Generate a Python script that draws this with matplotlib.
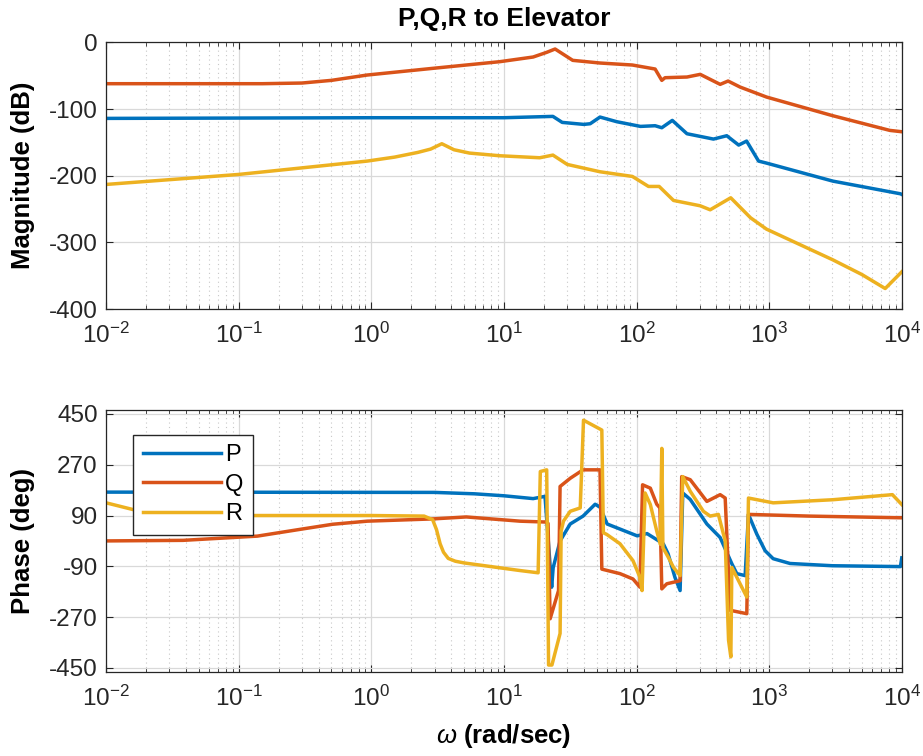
import numpy as np
import matplotlib
matplotlib.use("Agg")
import matplotlib.pyplot as plt
from matplotlib.ticker import FixedLocator, NullFormatter

plt.rcParams['font.family'] = ['Liberation Sans', 'DejaVu Sans']
plt.rcParams['mathtext.fontset'] = 'custom'
plt.rcParams['mathtext.rm'] = 'Liberation Sans'
plt.rcParams['mathtext.it'] = 'Liberation Sans:italic'
plt.rcParams['mathtext.bf'] = 'Liberation Sans:bold'
plt.rcParams['axes.unicode_minus'] = False

# magnitude (dB)
P_mag_w = [0.01, 1, 10, 23.4, 27.5, 40, 44.7, 53, 71, 107, 138, 155, 186, 240, 302, 380, 479, 589, 676, 832, 955, 3020, 9770, 10000]
P_mag = [-114, -113, -113, -111, -120, -123, -122, -112, -119, -126, -125, -128, -117, -137, -141, -145, -140, -154, -148, -178, -181, -208, -227, -228]

Q_mag_w = [0.01, 0.1, 0.15, 0.3, 0.5, 0.93, 2.9, 9.3, 16.6, 21, 24.3, 33, 53, 93, 138, 155, 164, 240, 302, 427, 490, 603, 955, 3020, 8130, 10000]
Q_mag = [-62, -62, -62, -61, -57, -49, -39, -29, -22, -15, -10, -27, -31, -34, -40, -57, -53, -52, -48, -63, -58, -67, -82, -110, -132, -134]

R_mag_w = [0.01, 0.1, 0.93, 1.5, 2.24, 2.8, 3.4, 4.2, 5.5, 9.3, 18.6, 23.4, 30, 53, 93, 123, 148, 190, 302, 359, 513, 724, 955, 3020, 5000, 7500, 10000]
R_mag = [-213, -198, -178, -172, -165, -160, -152, -161, -166, -170, -173, -169, -183, -194, -201, -216, -216, -237, -245, -251, -233, -263, -280, -326, -348, -369, -344]

# phase (deg)
P_ph_w = [0.01, 3, 6, 10, 16.6, 20.4, 22.9, 23.5, 26.5, 31.6, 39.5, 48.7, 53, 60, 75, 101, 120, 159, 173, 195, 213, 223, 254, 339, 427, 523, 570, 659, 698, 807, 933, 1072, 1437, 3000, 9770, 10000]
P_ph = [173, 172, 167, 160, 150, 158, -164, -95, 0, 60, 88, 130, 120, 60, 42, 18, 26, -10, -46, -130, -176, 170, 147, 60, 12, -81, -116, -123, 94, 24, -35, -63, -80, -88, -91, -60]

Q_ph_w = [0.01, 0.038, 0.138, 0.29, 0.51, 0.93, 2.9, 5.2, 13.2, 20.5, 21.5, 22.3, 25.8, 26.5, 31.6, 39.5, 53, 54.7, 75, 94, 106, 111, 127, 142, 150, 155, 169, 213, 219, 254, 339, 427, 466, 508, 678, 698, 2000, 10000]
Q_ph = [0, 2, 17, 41, 59, 70, 78, 85, 70, 67, 62, -276, -176, 193, 222, 252, 252, -100, -116, -135, -164, 199, 187, 130, 117, -170, -152, -141, 228, 217, 140, 164, 152, -246, -258, 94, 88, 82]

R_ph_w = [0.01, 0.016, 0.03, 0.13, 1.0, 2.5, 2.9, 3.1, 3.3, 3.5, 3.8, 4.3, 5.0, 13.2, 18.1, 18.8, 21.0, 21.7, 23.0, 26.5, 27.0, 28.1, 31.6, 37.6, 39.8, 54.7, 56.2, 59.6, 75, 94, 106, 110, 116, 127, 142, 151, 155, 158, 174, 190, 213, 223, 254, 319, 359, 414, 466, 494, 514, 523, 678, 698, 1072, 3020, 8500, 10000]
R_ph = [135, 111, 97, 90, 90, 88, 75, 40, -10, -40, -62, -72, -78, -105, -113, 246, 252, -440, -440, -328, 35, 70, 105, 117, 428, 393, 29, 23, -10, -70, -129, -176, 170, 129, 35, -12, 328, -24, -59, -94, -123, 228, 176, 105, 88, 94, 0, -352, -411, -94, -199, 152, 135, 146, 164, 129]

labels = ['P', 'Q', 'R']
colors = ['#0072BD', '#D95319', '#EDB120']
decades = [1e-2, 1e-1, 1e0, 1e1, 1e2, 1e3, 1e4]

fig = plt.figure(figsize=(9.23, 7.56), dpi=100)
ax1 = fig.add_axes([0.115, 0.591, 0.862, 0.353])
ax2 = fig.add_axes([0.115, 0.111, 0.862, 0.347])

lw = 2.5
ax1.plot(P_mag_w, P_mag, color=colors[0], lw=lw)
ax1.plot(Q_mag_w, Q_mag, color=colors[1], lw=lw)
ax1.plot(R_mag_w, R_mag, color=colors[2], lw=lw)

ax2.plot(P_ph_w, P_ph, color=colors[0], lw=lw, label=labels[0])
ax2.plot(Q_ph_w, Q_ph, color=colors[1], lw=lw, label=labels[1])
ax2.plot(R_ph_w, R_ph, color=colors[2], lw=lw, label=labels[2])

minor = [m * d for d in decades[:-1] for m in range(2, 10)]
for ax in (ax1, ax2):
    ax.set_xscale('log')
    ax.set_xlim(1e-2, 1e4)
    ax.set_xticks(decades)
    ax.xaxis.set_minor_locator(FixedLocator(minor))
    ax.xaxis.set_minor_formatter(NullFormatter())
    ax.grid(True, which='major', color='#d9d9d9', lw=0.9)
    ax.grid(True, which='minor', axis='x', color='#c8c8c8', lw=0.8, ls=(0, (1, 3)))
    ax.tick_params(which='both', direction='in', top=True, right=True, colors='#262626', labelsize=17.5)
    ax.tick_params(which='major', length=5)
    ax.tick_params(which='minor', length=3)
    ax.tick_params(axis='x', pad=10)
    ax.tick_params(axis='y', pad=6)
    for s in ax.spines.values():
        s.set_color('#262626')
        s.set_linewidth(0.9)
    ax.set_axisbelow(True)

ax1.set_ylim(-400, 0)
ax1.set_yticks([-400, -300, -200, -100, 0])
ax1.set_ylabel('Magnitude (dB)', fontsize=18.5, fontweight='bold', labelpad=10)
ax1.set_title('P,Q,R to Elevator', fontsize=19, fontweight='bold', pad=12)

ax2.set_ylim(-465, 465)
ax2.set_yticks([-450, -270, -90, 90, 270, 450])
ax2.set_ylabel('Phase (deg)', fontsize=18.5, fontweight='bold', labelpad=10)
ax2.set_xlabel(r'$\omega$ (rad/sec)', fontsize=18.5, fontweight='bold', labelpad=8)

leg = ax2.legend(loc='upper left', bbox_to_anchor=(0.034, 0.905), borderaxespad=0,
                 fontsize=17, handlelength=3.3, labelspacing=0.32, borderpad=0.4,
                 handletextpad=0.2, fancybox=False, framealpha=1)
leg.get_frame().set_edgecolor('#262626')
leg.get_frame().set_linewidth(1.0)

fig.savefig('out.png', dpi=100)
